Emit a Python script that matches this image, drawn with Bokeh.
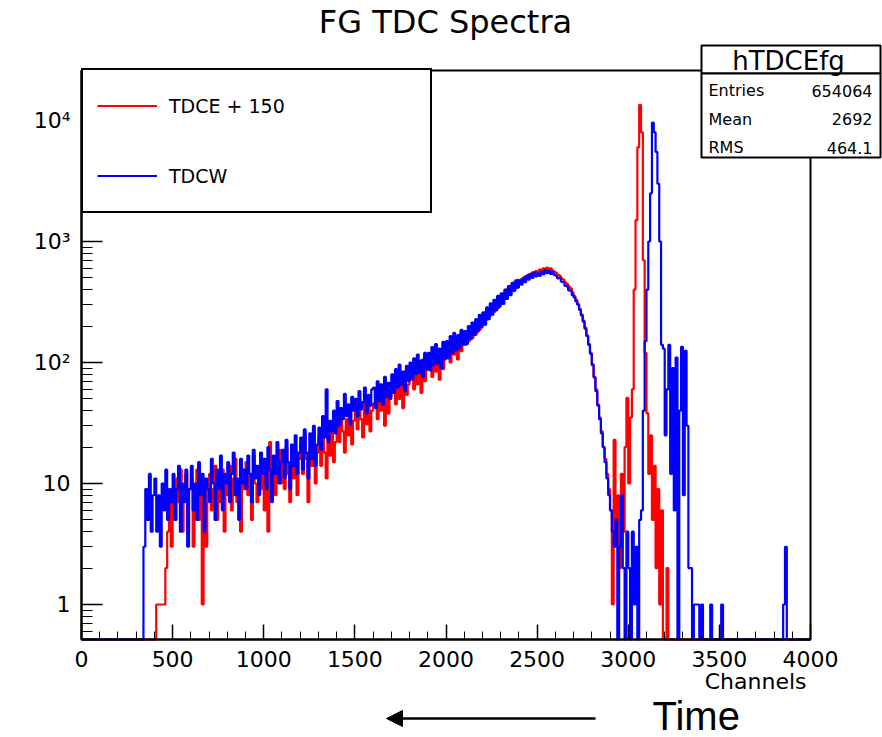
import numpy as np
from bokeh.plotting import figure
from bokeh.models import (Range1d, FixedTicker, SingleIntervalTicker, Label, Arrow,
                          NormalHead, BoxAnnotation, Legend, LegendItem, LinearAxis,
                          LogAxis, LogScale)
from bokeh.embed import file_html
from bokeh.resources import INLINE

# ---------------- data (counts per 10-channel bin) ----------------
bin_width = 10
x_min, x_max = 0, 4000

tdce_plus_150 = [
    0, 0, 0, 0, 0, 0, 0, 0, 0, 0,
    0, 0, 0, 0, 0, 0, 0, 0, 0, 0,
    0, 0, 0, 0, 0, 0, 0, 0, 0, 0,
    0, 0, 0, 0, 0, 0, 0, 0, 0, 0,
    0, 1, 1, 1, 1, 1, 2, 4, 7, 3,
    9, 5, 11, 7, 13, 4, 8, 12, 4, 9,
    11, 3, 8, 13, 5, 10, 1, 7, 3, 9,
    12, 6, 9, 14, 5, 10, 7, 13, 4, 11,
    8, 14, 6, 11, 16, 7, 10, 4, 13, 9,
    15, 8, 12, 5, 17, 10, 7, 13, 9, 16,
    6, 14, 4, 22, 9, 16, 8, 12, 19, 10,
    17, 9, 20, 12, 7, 15, 11, 19, 8, 16,
    21, 12, 25, 16, 7, 19, 14, 27, 10, 18,
    24, 14, 30, 18, 11, 26, 17, 29, 15, 22,
    36, 22, 40, 27, 18, 34, 25, 42, 21, 33,
    44, 28, 50, 34, 24, 46, 31, 52, 27, 40,
    46, 58, 34, 62, 40, 54, 30, 66, 38, 52,
    58, 74, 45, 80, 50, 70, 42, 84, 54, 66,
    74, 94, 60, 100, 66, 90, 56, 106, 70, 86,
    90, 118, 76, 124, 84, 112, 72, 128, 88, 120,
    112, 146, 100, 156, 116, 162, 106, 170, 124, 176,
    140, 178, 150, 192, 158, 205, 170, 222, 186, 238,
    210, 258, 226, 280, 245, 302, 262, 326, 280, 350,
    318, 372, 338, 402, 362, 430, 388, 458, 412, 482,
    455, 490, 470, 515, 490, 535, 510, 555, 525, 570,
    555, 585, 560, 600, 575, 610, 585, 600, 575, 565,
    550, 530, 520, 495, 485, 460, 445, 425, 410, 380,
    355, 330, 305, 278, 250, 222, 195, 168, 142, 120,
    97, 76, 60, 45, 35, 27, 20, 16, 12, 9,
    6, 1, 23, 3, 8, 2, 12, 4, 20, 51,
    10, 35, 60, 400, 1500, 6000, 13500, 8000, 700, 120,
    38, 12, 25, 5, 14, 2, 9, 1, 6, 0,
    0, 2, 0, 0, 0, 0, 0, 0, 0, 0,
    0, 0, 0, 0, 0, 0, 0, 0, 0, 0,
    0, 0, 0, 0, 0, 0, 0, 0, 0, 0,
    0, 0, 0, 0, 0, 0, 0, 0, 0, 0,
    0, 0, 0, 0, 0, 0, 0, 0, 0, 0,
    0, 0, 0, 0, 0, 0, 0, 0, 0, 0,
    0, 0, 0, 0, 0, 0, 0, 0, 0, 0,
    0, 0, 0, 0, 0, 0, 0, 0, 0, 0,
]

tdcw = [
    0, 0, 0, 0, 0, 0, 0, 0, 0, 0,
    0, 0, 0, 0, 0, 0, 0, 0, 0, 0,
    0, 0, 0, 0, 0, 0, 0, 0, 0, 0,
    0, 0, 0, 0, 3, 9, 5, 12, 4, 8,
    11, 4, 8, 3, 10, 6, 13, 5, 9, 7,
    12, 5, 9, 14, 4, 10, 7, 13, 3, 9,
    14, 6, 10, 5, 15, 8, 12, 4, 11, 9,
    7, 16, 10, 5, 13, 9, 17, 6, 12, 10,
    15, 7, 12, 18, 8, 11, 5, 16, 10, 13,
    9, 17, 12, 7, 19, 11, 14, 8, 18, 12,
    16, 9, 20, 13, 7, 17, 12, 22, 10, 15,
    19, 11, 23, 15, 9, 21, 14, 25, 12, 18,
    24, 13, 28, 18, 11, 26, 16, 30, 14, 21,
    29, 19, 36, 24, 60, 22, 33, 27, 40, 26,
    48, 30, 42, 34, 55, 36, 45, 31, 52, 40,
    50, 36, 58, 41, 47, 62, 38, 54, 44, 60,
    62, 42, 70, 48, 66, 45, 76, 52, 68, 50,
    80, 56, 88, 62, 96, 65, 84, 58, 94, 70,
    100, 72, 108, 80, 116, 82, 104, 76, 120, 88,
    120, 86, 134, 95, 142, 98, 130, 90, 148, 106,
    150, 108, 165, 120, 176, 126, 168, 130, 186, 142,
    182, 142, 200, 156, 214, 168, 228, 180, 248, 195,
    260, 205, 285, 228, 308, 248, 330, 270, 355, 290,
    372, 305, 400, 335, 428, 360, 455, 390, 478, 415,
    478, 440, 500, 462, 522, 485, 540, 500, 555, 515,
    545, 520, 565, 535, 580, 548, 575, 540, 560, 530,
    520, 495, 500, 465, 462, 430, 425, 395, 392, 360,
    345, 320, 300, 272, 245, 218, 190, 165, 140, 118,
    95, 75, 58, 44, 34, 26, 20, 15, 11, 8,
    6, 4, 3, 5, 0, 3, 8, 2, 0, 4,
    2, 0, 4, 1, 3, 0, 5, 6, 40, 150,
    400, 1000, 2500, 9600, 8000, 5500, 3000, 1000, 140, 130,
    25, 60, 140, 12, 90, 6, 110, 0, 40, 135,
    8, 125, 30, 2, 2, 0, 1, 1, 1, 0,
    1, 0, 0, 0, 0, 1, 0, 0, 0, 0,
    0, 1, 0, 0, 0, 0, 0, 0, 0, 0,
    0, 0, 0, 0, 0, 0, 0, 0, 0, 0,
    0, 0, 0, 0, 0, 0, 0, 0, 0, 0,
    0, 0, 0, 0, 0, 1, 3, 0, 0, 0,
    0, 0, 0, 0, 0, 0, 0, 0, 0, 0,
]

series_labels = ["TDCE + 150", "TDCW"]
series_colors = ["#ff0000", "#0000ff"]
y_major_ticks = [1, 10, 100, 1000, 10000]
y_tick_labels = {1: "1", 10: "10", 100: "10\u00b2", 1000: "10\u00b3", 10000: "10\u2074"}
stats_name = "hTDCEfg"
stats_rows = [("Entries", "654064"), ("Mean", "2692"), ("RMS", "464.1")]

# ---------------- geometry ----------------
W, H = 882, 737
FL, FR, FT, FB = 81, 810, 70, 639          # ROOT frame edges in pixels
PX_PER_DECADE = 121.0
Y_ONE_PX = 604.0                            # pixel row of value 1


def X(px):
    return x_min + (px - FL) / (FR - FL) * (x_max - x_min)


def Y(py):
    return 10 ** ((Y_ONE_PX - py) / PX_PER_DECADE)


YMAX = Y(FT)
YMIN = Y(FB)

edges = np.arange(x_min, x_max + bin_width, bin_width)


def step_values(vals):
    v = np.asarray(vals, dtype=float)
    v = np.where(v > 0, v, YMIN)      # empty bins drawn on the floor (ROOT log style)
    return np.append(v, v[-1])


# the bokeh frame covers the whole canvas, so nothing outside the ROOT frame is clipped
p = figure(width=W, height=H, x_range=Range1d(X(0), X(W)), y_range=Range1d(Y(H), Y(0)),
           y_axis_type="log", x_axis_location=None, y_axis_location=None,
           output_backend="svg", toolbar_location=None,
           min_border=0, min_border_left=0, min_border_right=0, min_border_top=0,
           min_border_bottom=0)
p.y_scale = LogScale()
p.background_fill_color = "white"
p.border_fill_color = "white"
p.outline_line_color = None
p.xgrid.visible = False
p.ygrid.visible = False

renderers = []
for vals, col in zip([tdce_plus_150, tdcw], series_colors):
    r = p.step(x=edges, y=step_values(vals), mode="after", line_color=col, line_width=2.2)
    renderers.append(r)

# ROOT frame
p.add_layout(BoxAnnotation(left=x_min, right=x_max, bottom=YMIN, top=YMAX, fill_alpha=0,
                           fill_color=None, line_color="black", line_alpha=1.0, line_width=2))

# axes pinned to the frame edges
xa = LinearAxis(fixed_location=YMIN, bounds=(x_min, x_max))
xa.ticker = SingleIntervalTicker(interval=500, num_minor_ticks=5)
xa.major_tick_in = 15
xa.major_tick_out = 0
xa.minor_tick_in = 8
xa.minor_tick_out = 0
xa.axis_line_width = 2
xa.major_tick_line_width = 1.5
xa.major_label_text_font = "DejaVu Sans"
xa.major_label_text_font_size = "22px"
xa.major_label_text_color = "black"
xa.major_label_standoff = 11
p.add_layout(xa, "below")

ya = LogAxis(fixed_location=x_min, bounds=(YMIN, YMAX))
minor = [m * 10 ** e for e in range(-1, 5) for m in range(2, 10) if YMIN < m * 10 ** e < YMAX]
ya.ticker = FixedTicker(ticks=y_major_ticks, minor_ticks=minor)
ya.major_label_overrides = y_tick_labels
ya.major_tick_in = 21
ya.major_tick_out = 0
ya.minor_tick_in = 11
ya.minor_tick_out = 0
ya.axis_line_width = 2
ya.major_tick_line_width = 1.5
ya.major_label_text_font = "DejaVu Sans"
ya.major_label_text_font_size = "22px"
ya.major_label_text_color = "black"
ya.major_label_standoff = 11
p.add_layout(ya, "left")

# legend
legend = Legend(items=[LegendItem(label=lab, renderers=[r]) for lab, r in zip(series_labels, renderers)],
                location=(FL, H - 213), margin=0, padding=14, spacing=27,
                glyph_width=60, glyph_height=43, label_height=43, label_width=247,
                label_standoff=12, border_line_color="black", border_line_alpha=1.0,
                border_line_width=2,
                background_fill_color="white", background_fill_alpha=1.0,
                label_text_font="DejaVu Sans", label_text_font_size="19px",
                label_text_color="black")
p.add_layout(legend)

# title
p.add_layout(Label(x=X(445), y=Y(21), text="FG TDC Spectra", text_align="center",
                   text_baseline="middle", text_font="DejaVu Sans", text_font_size="32px",
                   text_color="black"))

# stats box
p.add_layout(BoxAnnotation(left=X(701), right=X(880), top=Y(45), bottom=Y(73),
                           fill_color="white", fill_alpha=1.0, line_color="black",
                           line_alpha=1.0, line_width=2, level="overlay"))
p.add_layout(BoxAnnotation(left=X(701), right=X(880), top=Y(73), bottom=Y(157),
                           fill_color="white", fill_alpha=1.0, line_color="black",
                           line_alpha=1.0, line_width=2, level="overlay"))
p.add_layout(Label(x=X(788), y=Y(60), text=stats_name, text_align="center",
                   text_baseline="middle", text_font="DejaVu Sans", text_font_size="26px",
                   text_color="black", level="overlay"))
for i, (name, val) in enumerate(stats_rows):
    yy = Y(90 + i * 28.5)
    p.add_layout(Label(x=X(708), y=yy, text=name, text_align="left", text_baseline="middle",
                       text_font="DejaVu Sans", text_font_size="16px", text_color="black",
                       level="overlay"))
    p.add_layout(Label(x=X(872), y=yy, text=val, text_align="right", text_baseline="middle",
                       text_font="DejaVu Sans", text_font_size="16px", text_color="black",
                       level="overlay"))

# x axis title
p.add_layout(Label(x=X(806), y=Y(681), text="Channels", text_align="right",
                   text_baseline="middle", text_font="DejaVu Sans", text_font_size="22px",
                   text_color="black"))

# time arrow annotation
p.add_layout(Arrow(x_start=X(595), y_start=Y(718), x_end=X(386), y_end=Y(718),
                   line_color="black", line_width=2.5,
                   end=NormalHead(size=16, fill_color="black", line_color="black")))
p.add_layout(Label(x=X(652), y=Y(715), text="Time", text_align="left", text_baseline="middle",
                   text_font="Liberation Sans", text_font_size="40px", text_color="black"))

open("out.html", "w").write(file_html(p, INLINE))
